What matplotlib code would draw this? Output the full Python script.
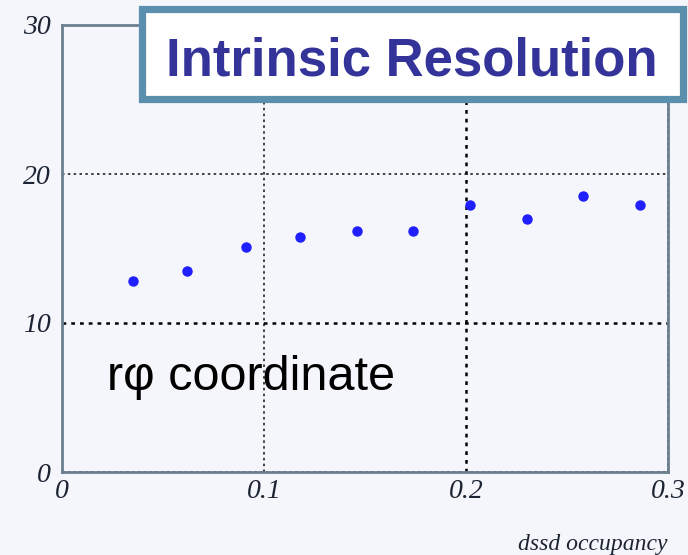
import matplotlib
matplotlib.use("Agg")
import matplotlib.pyplot as plt
from matplotlib.patches import Rectangle

# dssd occupancy vs intrinsic resolution (r-phi)
occupancy = [0.035, 0.062, 0.091, 0.118, 0.146, 0.174, 0.202, 0.230, 0.258, 0.286]
resolution = [12.8, 13.5, 15.1, 15.8, 16.2, 16.2, 17.9, 17.0, 18.5, 17.9]
xticks = [0, 0.1, 0.2, 0.3]
xticklabels = ['0', '0.1', '0.2', '0.3']
yticks = [0, 10, 20, 30]
yticklabels = ['0', '10', '20', '30']

bg = '#f5f6fb'
W, H = 688, 555

fig = plt.figure(figsize=(W / 100, H / 100), dpi=100, facecolor=bg)
ax = fig.add_axes([62 / W, (H - 472) / H, (668 - 62) / W, (472 - 25) / H], facecolor=bg)

ax.plot(occupancy, resolution, 'o', color='#1f1fff', ms=6.5, zorder=3)

ax.set_xlim(0, 0.3)
ax.set_ylim(0, 30)
ax.set_xticks(xticks)
ax.set_xticklabels(xticklabels)
ax.set_yticks(yticks)
ax.set_yticklabels(yticklabels)
ax.tick_params(length=0, labelcolor='#1c2433')
ax.tick_params(axis='x', pad=5)
ax.tick_params(axis='y', pad=8)
for lab in ax.get_xticklabels() + ax.get_yticklabels():
    lab.set_fontfamily('Liberation Serif')
    lab.set_fontstyle('italic')
    lab.set_fontsize(20)

ax.grid(True, linestyle=(0, (1.5, 2)), color='#222222', lw=1.2)
for gl in ax.xaxis.get_gridlines()[2:3] + ax.yaxis.get_gridlines()[1:2]:
    gl.set_linewidth(1.8)
    gl.set_color('black')

for sp in ax.spines.values():
    sp.set_color('#6b7f8f')
    sp.set_linewidth(2)

ax.text(0.0222, 5.5, 'r\u03c6 coordinate', fontsize=35, family='Liberation Sans',
        color='black', ha='left', va='baseline')

fig.text(668 / W, (H - 550) / H, 'dssd occupancy', fontsize=17, family='Liberation Serif',
         style='italic', color='#1c2433', ha='right', va='baseline')

# title box
box = Rectangle((141.5 / W, (H - 98.5) / H), (682.5 - 141.5) / W, (98.5 - 8.5) / H,
                transform=fig.transFigure, facecolor='white', edgecolor='#5b8fae',
                linewidth=5.2, zorder=5)
fig.patches.append(box)
fig.text(412 / W, (H - 75) / H, 'Intrinsic Resolution', fontsize=38, fontweight='bold',
         family='Liberation Sans', color='#333399', ha='center', va='baseline', zorder=6)

fig.savefig('out.png', dpi=100, facecolor=bg)
